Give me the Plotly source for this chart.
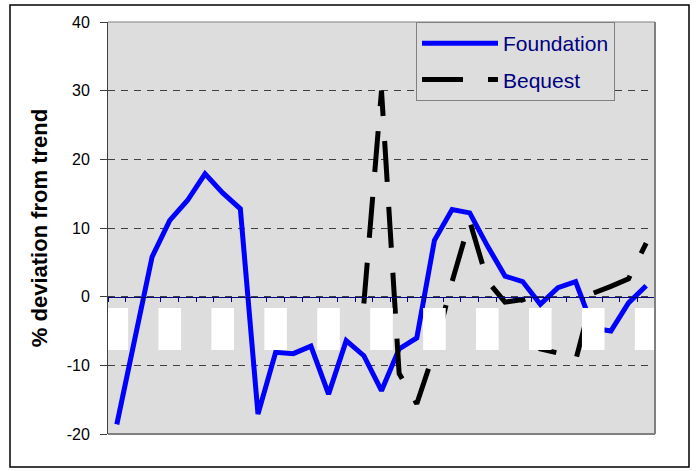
import plotly.graph_objects as go

# ---------------- data ----------------
periods = [str(i) for i in range(1, 32)]  # 31 periods; original labels are masked in the reference
foundation = [-18.6, -6.0, 5.8, 11.1, 14.0, 17.9, 15.1, 12.8, -17.1, -8.1,
              -8.3, -7.2, -14.2, -6.4, -8.6, -13.7, -7.6, -6.0, 8.2, 12.7,
              12.2, 7.4, 3.0, 2.2, -1.1, 1.3, 2.2, -4.6, -5.0, -0.9, 1.6]
bequest = [None] * 14 + [-1.0, 30.0, -11.2, -15.6, -7.9, 2.2, 11.0, 2.3,
                         -0.8, -0.4, -7.6, -8.2, -9.3, 0.5, 1.5, 2.6, 7.8]
y_ticks = [-20, -10, 0, 10, 20, 30, 40]
y_tick_labels = ["-20", "-10", "0", "10", "20", "30", "40"]
mask_positions = list(range(0, 31, 3))   # categories whose (masked) labels are covered by white boxes

# ---------------- layout geometry ----------------
W, H = 697, 471
L, R, T, B = 108, 655, 22, 434
PW, PH = R - L, B - T

def px_x(p):
    return (p - L) / PW

def px_y(p):
    return (B - p) / PH

FONT = "Liberation Sans, Arial, sans-serif"

fig = go.Figure()
fig.add_trace(go.Scatter(
    x=periods, y=foundation, mode="lines", name="Foundation",
    line=dict(color="#0000FF", width=5), legendgroup="a", hoverinfo="skip"))
fig.add_trace(go.Scatter(
    x=periods, y=bequest, mode="lines", name="Bequest",
    line=dict(color="#000000", width=5, dash="41px,25px"), legendgroup="b", hoverinfo="skip"))

shapes = []
# white masking boxes over the category labels
for c in mask_positions:
    shapes.append(dict(type="rect", xref="x", yref="y", x0=c - 0.64, x1=c + 0.64,
                       y0=-7.75, y1=-1.64, fillcolor="white", line=dict(width=0),
                       layer="above"))
# plot frame (top, right, bottom) in gray
shapes.append(dict(type="line", xref="x domain", yref="y domain", x0=0, x1=1, y0=1, y1=1,
                   line=dict(color="#808080", width=1), layer="above"))
shapes.append(dict(type="line", xref="x domain", yref="y domain", x0=1, x1=1, y0=0, y1=1,
                   line=dict(color="#808080", width=2), layer="above"))
shapes.append(dict(type="line", xref="x domain", yref="y domain", x0=0, x1=1, y0=0, y1=0,
                   line=dict(color="#808080", width=2), layer="above"))
# outer chart border
shapes.append(dict(type="rect", xref="paper", yref="paper",
                   x0=px_x(10), x1=px_x(689), y0=px_y(467), y1=px_y(5),
                   line=dict(color="#000000", width=1.5), fillcolor="rgba(0,0,0,0)"))

fig.update_layout(
    width=W, height=H,
    margin=dict(l=L, r=W - R, t=T, b=H - B, pad=0),
    paper_bgcolor="white", plot_bgcolor="#DDDDDD",
    font=dict(family=FONT, size=15, color="black"),
    shapes=shapes,
    hovermode=False,
    showlegend=True,
    legend=dict(x=px_x(416), y=1.0, xanchor="left", yanchor="top",
                bgcolor="#DDDDDD", bordercolor="#808080", borderwidth=1,
                font=dict(family=FONT, size=21, color="#000080"),
                itemwidth=76, tracegroupgap=6, traceorder="grouped"),
    xaxis=dict(type="category", range=[-0.5, 30.5], anchor="free", position=1 / 3,
               showline=True, linecolor="#000080", linewidth=1,
               ticks="outside", ticklen=4, tickcolor="#000080", tickson="boundaries",
               showticklabels=False, showgrid=False, zeroline=False, automargin=False),
    yaxis=dict(range=[-20, 40], tickmode="array", tickvals=y_ticks, ticktext=y_tick_labels,
               ticks="outside", ticklen=7,
               tickcolor="#404040", showline=True, linecolor="#404040", linewidth=1,
               showgrid=True, gridcolor="#404040", gridwidth=1, griddash="7px,6px",
               zeroline=False, tickfont=dict(family=FONT, size=16, color="black"),
               ticklabelstandoff=7, automargin=False,
               title=dict(text="<b>% deviation from trend</b>", standoff=12,
                          font=dict(family=FONT, size=22, color="black"))),
)

fig.write_html("out.html", config={"displayModeBar": False},
               post_script="document.body.style.margin='0';")
